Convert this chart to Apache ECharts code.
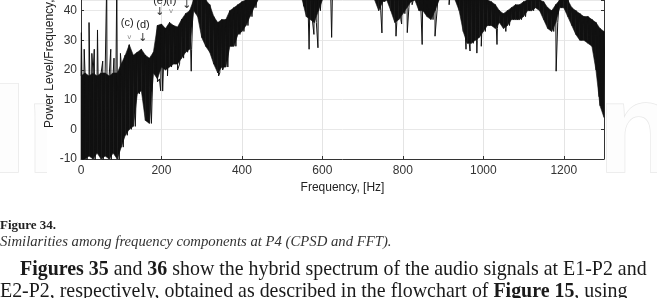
<!DOCTYPE html>
<html><head><meta charset="utf-8">
<script src="https://cdn.jsdelivr.net/npm/echarts@6/dist/echarts.min.js"></script>
<style>html,body{margin:0;padding:0;background:#fff;}#c{width:657px;height:298px;}</style>
</head><body><div id="c"></div><script>
// ---- data ----
const freqStep = 10; // Hz between envelope samples
const bandHigh = [
 18,19,18,19,18,19,19,18,19,19,
 22,25,28.5,25,26,27,25,24,26,35,
 35.5,34,36,35,34.5,37,39,40,48,48,
 48,46,42,38,36,37,37,40,41,42,
 43,44,45,47,48,50,50,50,50,50,
 50,50,50,50,50,50,50,50,50,50,
 50,50,50,50,50,50,50,50,50,50,
 50,50,50,50,50,50,50,50,50,50,
 50,50,50,50,50,50,50,50,50,50,
 50,50,50,50,50,50,50,50,50,50,
 48,45,43,42,40,39,40,41,42,42,
 43,46,46,46,45,43,41,40,42,46,
 46,45,41,40,39,38,38,37,36,34,
 33];
const bandLow = [
 -12,-11,-9,-12,-8,-11,-9,-12,-8,-11,
 -6,-2,0,1,12,13,3,2,19,17,
 21,20,21,22,22,24,26,27,40,38,
 31,28,26,22,19,21,21,28,28,32,
 33,35,38,41,45,46,46,46,46,46,
 46,46,46,46,46,44,38,37,36,40,
 45,46,46,46,46,46,46,46,46,46,
 46,46,46,45,40,43,44,40,36,37,
 39,41,43,44,40,40,38,37,40,45,
 46,46,46,46,40,33,29,29,30,31,
 33,35,35,34,36,34,35,37,37,37,
 38,40,40,41,40,37,34,33,36,41,
 41,38,35,32,30,30,29,28,20,8,
 4];
const spikeFreq  = [1, 8, 20, 27, 33, 41, 54, 64, 74, 82, 89, 98, 178, 190, 198, 203, 215, 240, 274, 342, 352,
                    554, 567, 579, 589, 623, 748, 783, 797, 811, 823, 848, 856, 880, 915,
                    957, 967, 984, 995, 1009, 1034, 1056, 1181, 1288];
const spikeLevel = [32.6, 27, 36, 25.6, 27, 33.5, 23, 50, 27, 24, 50, 25.6, 2.3, 16, 13, 12.9, 18, 20, 19.6, 18, 20,
                    41.5, 27, 32, 27.5, 31, 32.5, 31.4, 35.5, 32.6, 42, 28.6, 39, 31.4, 42,
                    27, 26.4, 25.7, 28, 32.6, 28.6, 33, 19.6, 11];
const annText  = ['(c)', '(d)', '(e)', '(f)'];
const annFreq  = [115, 154, 196, 224];
const annLevel = [36, 35.2, 43.4, 43.4];
const arrowFreq  = [120, 154, 196, 224, 263];
const arrowLevel = [31.2, 30.6, 39.5, 39.8, 42];
const arrowGlyph = ['v', '↓', '↓', 'v', '↓'];
const xName = 'Frequency, [Hz]';
const yName = 'Power Level/Frequency, [dB/Hz]';
const captionTitle = 'Figure 34.';
const captionText = 'Similarities among frequency components at P4 (CPSD and FFT).';
const bodyLine1 = '{b|Figures 35} and {b|36} show the hybrid spectrum of the audio signals at E1-P2 and';
const bodyLine2 = 'E2-P2, respectively, obtained as described in the flowchart of {b|Figure 15}, using';

const yMin = -10, yMax = 43.6;

// ---- build the trace ----
const pts = [];
bandHigh.forEach((v, i) => pts.push([i * freqStep, v]));
bandLow.forEach((v, i) => pts.push([i * freqStep + freqStep / 2, v]));
spikeFreq.forEach((f, i) => pts.push([f, spikeLevel[i]]));
pts.sort((a, b) => a[0] - b[0]);
const bandData = bandHigh.map((v, i) => [i * freqStep, v, bandLow[i]]);

const SERIF = '"Liberation Serif", "Times New Roman", serif';
const SANS = '"Liberation Sans", Arial, sans-serif';
function fit(parts, target) {
  const ctx = document.createElement('canvas').getContext('2d');
  let w = 0;
  parts.forEach(p => { ctx.font = p[1] + ' 100px ' + SERIF; w += ctx.measureText(p[0]).width; });
  return 100 * target / w;
}
const bodySize = fit([['Figures 35', 'bold'], [' and ', ''], ['36', 'bold'], [' show the hybrid spectrum of the audio signals at E1-P2 and', '']], 627);
const capSize = fit([[captionText, 'italic']], 392);

const markData = annText.map((t, i) => ({
  coord: [annFreq[i], annLevel[i]],
  label: { show: true, formatter: t, position: 'inside', color: '#222', fontSize: 11, fontFamily: SANS }
})).concat(arrowGlyph.map((g, i) => ({
  coord: [arrowFreq[i], arrowLevel[i]],
  label: { show: true, formatter: g, position: 'inside',
    color: g === 'v' ? '#888' : '#333', fontSize: g === 'v' ? 7 : 11, fontFamily: '"DejaVu Sans", sans-serif' }
})));

function renderBand(params, api) {
  const i = params.dataIndex;
  if (i >= bandData.length - 1) return null;
  const a = bandData[i], b = bandData[i + 1];
  if (a[2] >= yMax && b[2] >= yMax) return null; // whole segment above the visible range
  let p = [api.coord([a[0], a[1]]), api.coord([b[0], b[1]]), api.coord([b[0], b[2]]), api.coord([a[0], a[2]])];
  p = echarts.graphic.clipPointsByRect(p, params.coordSys);
  return { type: 'polygon', shape: { points: p }, style: { fill: '#111', stroke: '#111', lineWidth: 0.6 } };
}

const chart = echarts.init(document.getElementById('c'), null, { renderer: 'canvas' });
chart.setOption({
  animation: false,
  backgroundColor: '#fff',
  grid: { left: 81, top: 0, width: 523, height: 159 },
  xAxis: {
    type: 'value', min: 0, max: 1300, interval: 200,
    name: xName, nameLocation: 'middle', nameGap: 23,
    nameTextStyle: { color: '#222', fontSize: 12, fontFamily: SANS },
    axisLine: { show: true, onZero: false, lineStyle: { color: '#333', width: 1 } },
    axisTick: { show: true, inside: true, length: 3, lineStyle: { color: '#333' } },
    axisLabel: { color: '#333', fontSize: 12, fontFamily: SANS, margin: 6, showMaxLabel: false, formatter: v => String(v) },
    splitLine: { show: true, lineStyle: { color: '#e4e4e4', width: 1 } }
  },
  yAxis: [{
    type: 'value', min: yMin, max: yMax, interval: 10, position: 'left',
    axisLine: { show: true, onZero: false, lineStyle: { color: '#333', width: 1 } },
    axisTick: { show: true, inside: true, length: 3, lineStyle: { color: '#333' } },
    axisLabel: { color: '#333', fontSize: 12, fontFamily: SANS, margin: 4, showMaxLabel: false, formatter: v => String(v) },
    splitLine: { show: true, lineStyle: { color: '#e8e8e8', width: 1 } }
  }, {
    type: 'value', min: yMin, max: yMax, interval: 10, position: 'right',
    axisLine: { show: true, onZero: false, lineStyle: { color: '#333', width: 1 } },
    axisTick: { show: true, inside: true, length: 3, lineStyle: { color: '#333' } },
    axisLabel: { show: false }, splitLine: { show: false }
  }],
  series: [{
    type: 'custom', data: bandData, renderItem: renderBand, encode: { x: 0, y: [1, 2] }, z: 2, silent: true
  }, {
    type: 'line', data: pts, showSymbol: false, symbol: 'none', clip: true,
    lineStyle: { color: '#111', width: 1 }, z: 3,
    markPoint: { symbol: 'rect', symbolSize: 1, itemStyle: { color: 'rgba(0,0,0,0)' }, data: markData, silent: true }
  }],
  graphic: [
    { type: 'text', x: -9, y: 137, z: -10, style: { text: 'In', font: 'bold 128px ' + SANS, fill: '#fdfdfd', stroke: '#e8e8e8', lineWidth: 1.5, verticalAlign: 'middle' } },
    { type: 'text', x: 598, y: 137, z: -10, style: { text: 'n', font: 'bold 128px ' + SANS, fill: '#fdfdfd', stroke: '#e8e8e8', lineWidth: 1.5, verticalAlign: 'middle' } },
    { type: 'rect', z: -5, shape: { x: 47, y: 0, width: 559, height: 200 }, style: { fill: '#fff' } },
    { type: 'text', x: 50, y: 128, rotation: Math.PI / 2, z: 5,
      style: { text: yName, fontSize: 12, fontFamily: SANS, fill: '#222', align: 'left', verticalAlign: 'middle' } },
    { type: 'text', x: 0, y: 226, style: { text: captionTitle, fontSize: 13, fontWeight: 'bold', fontFamily: SERIF, fill: '#222', verticalAlign: 'middle' } },
    { type: 'text', x: 0, y: 242, style: { text: captionText, fontSize: capSize, fontStyle: 'italic', fontFamily: SERIF, fill: '#333', verticalAlign: 'middle' } },
    { type: 'text', x: 20, y: 270, style: { text: bodyLine1, fontSize: bodySize, fontFamily: SERIF, fill: '#1a1a1a', verticalAlign: 'middle',
        rich: { b: { fontWeight: 'bold', fontSize: bodySize, fontFamily: SERIF, fill: '#1a1a1a' } } } },
    { type: 'text', x: 0, y: 292, style: { text: bodyLine2, fontSize: bodySize, fontFamily: SERIF, fill: '#1a1a1a', verticalAlign: 'middle',
        rich: { b: { fontWeight: 'bold', fontSize: bodySize, fontFamily: SERIF, fill: '#1a1a1a' } } } }
  ]
});
</script></body></html>
